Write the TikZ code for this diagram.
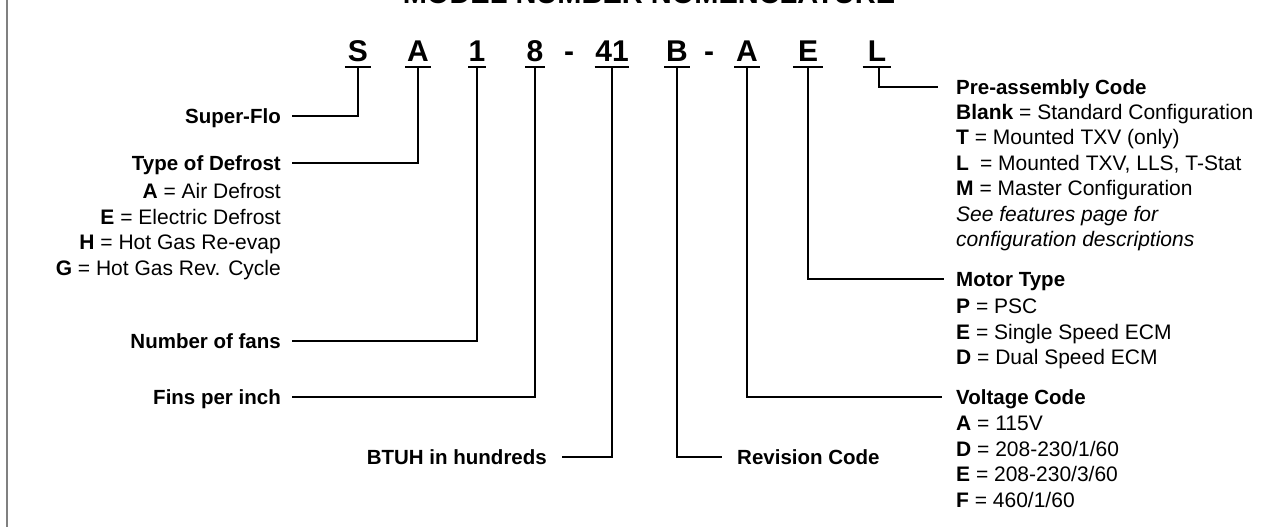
\documentclass[tikz,border=0pt]{standalone}
\usepackage{fontspec}
\setmainfont{Liberation Sans}
\definecolor{bordergray}{RGB}{128,128,128}
\begin{document}
\begin{tikzpicture}[x=1pt,y=-1pt,
  code/.style={font=\fontsize{30}{36}\selectfont\bfseries, inner ysep=0pt, inner xsep=2pt, anchor=base},
  head/.style={font=\fontsize{20.5}{24}\selectfont\bfseries, inner sep=0pt, text height=14.7pt, text depth=0pt},
  item/.style={font=\fontsize{21}{25}\selectfont, inner sep=0pt, text height=15pt, text depth=0pt},
  conn/.style={line width=1.8pt, black},
  uline/.style={line width=2pt, black},
  ttl/.style={font=\fontsize{29}{34}\selectfont\bfseries, inner sep=0pt, anchor=base}
]
\useasboundingbox (0,0) rectangle (1286,527);
\fill[white] (0,0) rectangle (1286,527);
\draw[line width=2pt, bordergray] (7,-2) -- (7,530);

\node[ttl] (title) at (649,4) {MODEL NUMBER NOMENCLATURE};

% code letters
\node[code, inner xsep=3pt] (cS) at (358,62) {S};
\node[code, inner xsep=1.5pt] (cA) at (418,62) {A};
\node[code, inner xsep=0pt] (c1) at (477,62) {1};
\node[code, inner xsep=1pt] (c8) at (535,62) {8};
\node[code, inner xsep=0pt] (dash1) at (569,62) {-};
\node[code, inner xsep=0.5pt] (c41) at (612,62) {41};
\node[code, inner xsep=1.5pt] (cB) at (677,62) {B};
\node[code, inner xsep=0pt] (dash2) at (709,62) {-};
\node[code, inner xsep=1.5pt] (cA2) at (747,62) {A};
\node[code, inner xsep=5pt] (cE) at (808,62) {E};
\node[code, inner xsep=5pt] (cL) at (877,62) {L};

\foreach \n in {cS,cA,c1,c8,c41,cB,cA2,cE,cL}{
  \draw[uline] ([yshift=-5pt]\n.south west) -- ([yshift=-5pt]\n.south east);
}

% left labels
\node[head, anchor=east] (lSuper) at (281,116) {Super-Flo};
\node[head, anchor=east] (lDef) at (281,163) {Type of Defrost};
\node[item, anchor=east] (lDefA) at (281,191) {\textbf{A} = Air Defrost};
\node[item, anchor=east] (lDefE) at (281,216.5) {\textbf{E} = Electric Defrost};
\node[item, anchor=east] (lDefH) at (281,242) {\textbf{H} = Hot Gas Re-evap};
\node[item, anchor=east] (lDefG) at (281,267.5) {\textbf{G} = Hot Gas Rev. Cycle};
\node[head, anchor=east] (lFans) at (281,341) {Number of fans};
\node[head, anchor=east] (lFins) at (281,397) {Fins per inch};
\node[head, anchor=east] (lBtuh) at (547,457) {BTUH in hundreds};

% right labels
\node[head, anchor=west] (lPre) at (956,87) {Pre-assembly Code};
\node[item, anchor=west] (lPreB) at (956,111.5) {\textbf{Blank} = Standard Configuration};
\node[item, anchor=west] (lPreT) at (956,137) {\textbf{T} = Mounted TXV (only)};
\node[item, anchor=west] (lPreL) at (956,162.5) {\textbf{L}\hspace{0.25em} = Mounted TXV, LLS, T-Stat};
\node[item, anchor=west] (lPreM) at (956,188) {\textbf{M} = Master Configuration};
\node[item, anchor=west] (lPreS) at (956,213.5) {\itshape See features page for};
\node[item, anchor=west] (lPreC) at (956,239) {\itshape configuration descriptions};

\node[head, anchor=west] (lMot) at (956,279) {Motor Type};
\node[item, anchor=west] (lMotP) at (956,306) {\textbf{P} = PSC};
\node[item, anchor=west] (lMotE) at (956,331.5) {\textbf{E} = Single Speed ECM};
\node[item, anchor=west] (lMotD) at (956,357) {\textbf{D} = Dual Speed ECM};

\node[head, anchor=west] (lVol) at (956,397) {Voltage Code};
\node[item, anchor=west] (lVolA) at (956,423) {\textbf{A} = 115V};
\node[item, anchor=west] (lVolD) at (956,448.5) {\textbf{D} = 208-230/1/60};
\node[item, anchor=west] (lVolE) at (956,474) {\textbf{E} = 208-230/3/60};
\node[item, anchor=west] (lVolF) at (956,499.5) {\textbf{F} = 460/1/60};

\node[head, anchor=west] (lRev) at (737,457) {Revision Code};

% connectors
\draw[conn] ([yshift=-5pt]cS.south) |- ([xshift=11pt]lSuper.east);
\draw[conn] ([yshift=-5pt]cA.south) |- ([xshift=11pt]lDef.east);
\draw[conn] ([yshift=-5pt]c1.south) |- ([xshift=11pt]lFans.east);
\draw[conn] ([yshift=-5pt]c8.south) |- ([xshift=11pt]lFins.east);
\draw[conn] ([yshift=-5pt]c41.south) |- ([xshift=15pt]lBtuh.east);
\draw[conn] ([yshift=-5pt]cB.south) |- ([xshift=-15pt]lRev.west);
\draw[conn] ([yshift=-5pt]cA2.south) |- ([xshift=-14pt]lVol.west);
\draw[conn] ([yshift=-5pt]cE.south) |- ([xshift=-12pt]lMot.west);
\draw[conn] ([yshift=-5pt,xshift=2pt]cL.south) |- ([xshift=-18pt]lPre.west);
\end{tikzpicture}
\end{document}
